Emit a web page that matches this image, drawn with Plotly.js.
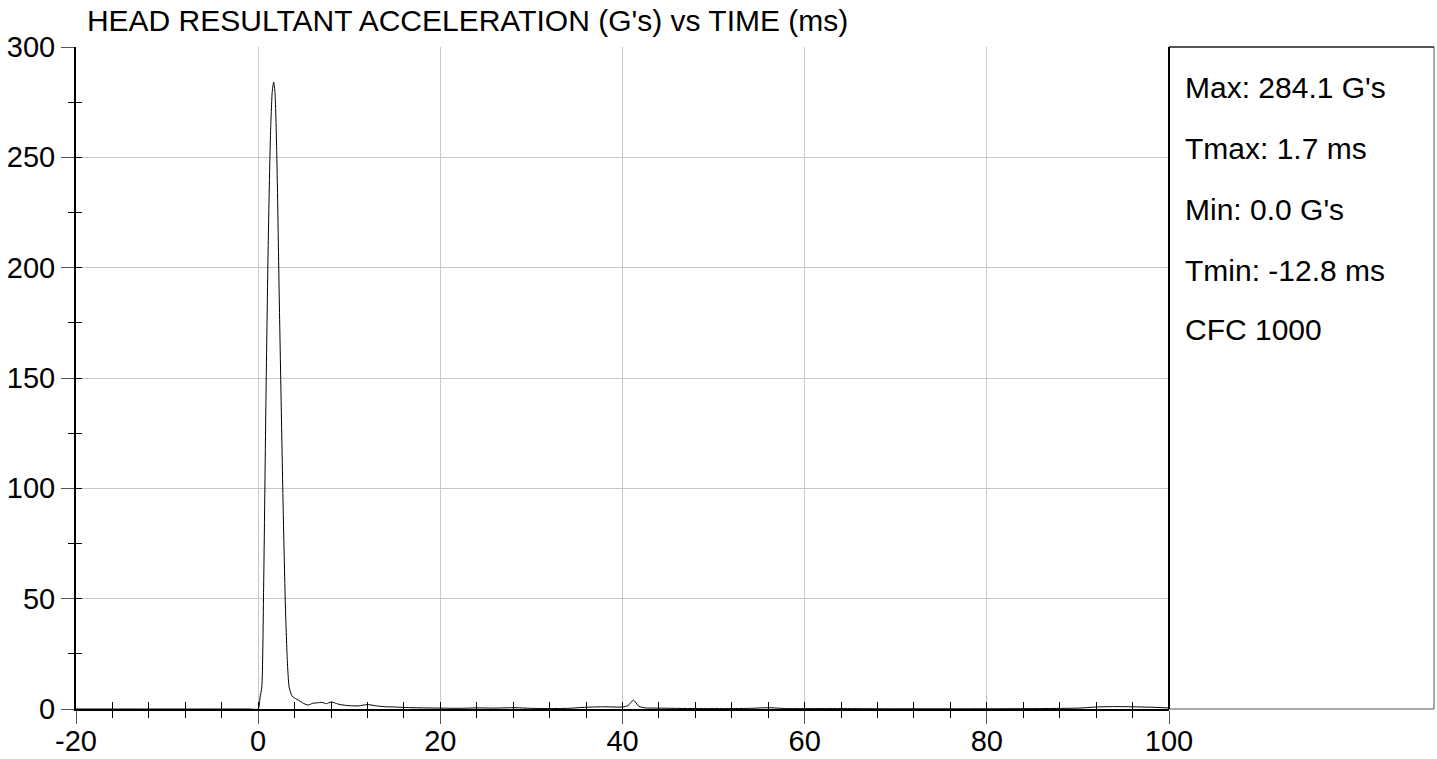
<!DOCTYPE html>
<html>
<head>
<meta charset="utf-8">
<script src="https://cdn.plot.ly/plotly-3.0.1.min.js"></script>
<style>html,body{margin:0;padding:0;background:#fff;}#chart{width:1437px;height:759px;}</style>
</head>
<body>
<div id="chart"></div>
<script>
const chartTitle = "HEAD RESULTANT ACCELERATION (G's) vs TIME (ms)";
const timeMs = [-20, -16, -12.8, -8, -4, -1, 0, 0.2, 0.4, 0.6, 0.86, 1.1, 1.35, 1.55, 1.7, 1.85, 2.05, 2.3, 2.51, 2.75, 3.0, 3.2, 3.4, 3.7, 4.0, 4.5, 5.0, 5.5, 6.0, 6.5, 7.0, 7.5, 8.0, 8.5, 9.0, 10, 11, 12, 13, 14, 15, 16, 17, 18, 20, 22, 24, 26, 28, 30, 32, 34, 36, 38, 40, 40.6, 41.2, 41.8, 42.5, 44, 48, 52, 54, 56, 58, 62, 70, 80, 86, 90, 92, 94, 96, 98, 100];
const headG = [0, 0, 0, 0, 0, 0, 0, 5, 10, 55, 142, 210, 260, 280, 284.1, 279, 250, 190, 142, 90, 45, 22, 10, 6, 5, 3.8, 2.5, 1.8, 2.6, 2.8, 3.0, 2.4, 3.2, 2.6, 2.0, 1.5, 1.4, 2.0, 1.4, 1.0, 0.9, 0.7, 0.6, 0.5, 0.4, 0.3, 0.5, 0.4, 0.6, 0.3, 0.2, 0.3, 0.8, 1.0, 0.9, 1.5, 4.0, 1.2, 0.5, 0.4, 0.2, 0.2, 0.3, 0.6, 0.2, 0.2, 0.1, 0.1, 0.2, 0.4, 0.9, 1.1, 1.0, 0.8, 0.5];
const statLines = ["Max: 284.1 G's", "Tmax: 1.7 ms", "Min: 0.0 G's", "Tmin: -12.8 ms", "CFC 1000"];
const statY = [0.939, 0.847, 0.754, 0.663, 0.573];
const xTicks = [-20, 0, 20, 40, 60, 80, 100];
const yTicks = [0, 50, 100, 150, 200, 250, 300];

const FONT = "Liberation Sans, Arial, sans-serif";
const FS = 29;
const plotW = 1093;
const panelRight = 1 + 265 / plotW;

const trace = {
  x: timeMs, y: headG, type: 'scatter', mode: 'lines',
  line: {color: '#000', width: 1, shape: 'spline', smoothing: 0.6},
  hoverinfo: 'x+y', showlegend: false
};
const dummy2 = {x: [-20], y: [0], xaxis: 'x2', yaxis: 'y2', type: 'scatter', mode: 'markers', marker: {opacity: 0}, showlegend: false, hoverinfo: 'skip'};

const annotations = statLines.map((t, i) => ({
  text: t, xref: 'paper', yref: 'paper', x: 1.0128, y: statY[i],
  xanchor: 'left', yanchor: 'middle', showarrow: false,
  font: {family: FONT, size: 30, color: '#000'}
}));

const layout = {
  width: 1437, height: 759,
  margin: {l: 76, r: 268, t: 47, b: 50},
  paper_bgcolor: '#fff', plot_bgcolor: '#fff',
  font: {family: FONT, size: FS, color: '#000'},
  title: {text: chartTitle, xref: 'paper', x: 0.01, xanchor: 'left', yref: 'container', y: 0.973, yanchor: 'middle',
          font: {family: FONT, size: 30, color: '#000'}},
  xaxis: {
    range: [-20, 100], tickvals: xTicks, ticktext: xTicks.map(String),
    showgrid: true, gridcolor: '#c8c8c8', gridwidth: 1,
    ticks: 'outside', ticklen: 13, tickcolor: '#555', tickwidth: 1,
    minor: {tickmode: 'linear', tick0: -20, dtick: 4, ticks: 'outside', ticklen: 7, tickcolor: '#000', tickwidth: 1, showgrid: false},
    showline: true, linecolor: '#000', linewidth: 2, zeroline: false,
    tickfont: {family: FONT, size: FS, color: '#000'}, ticklabelstandoff: -8
  },
  yaxis: {
    range: [0, 300], tickvals: yTicks, ticktext: yTicks.map(String),
    showgrid: true, gridcolor: '#c8c8c8', gridwidth: 1,
    ticks: 'outside', ticklen: 13, tickcolor: '#555', tickwidth: 1,
    minor: {tickmode: 'linear', tick0: 0, dtick: 25, ticks: 'outside', ticklen: 6, tickcolor: '#000', tickwidth: 1, showgrid: false},
    showline: true, linecolor: '#000', linewidth: 2, zeroline: false,
    tickfont: {family: FONT, size: FS, color: '#000'}, ticklabelstandoff: 0
  },
  xaxis2: {
    overlaying: 'x', anchor: 'y2', range: [-20, 100], tickmode: 'linear', tick0: -20, dtick: 4,
    ticks: 'inside', ticklen: 7, tickcolor: '#000', tickwidth: 1, side: 'bottom',
    showticklabels: false, showgrid: false, zeroline: false, showline: false
  },
  yaxis2: {
    overlaying: 'y', anchor: 'x2', range: [0, 300], tickmode: 'linear', tick0: 0, dtick: 25,
    ticks: 'inside', ticklen: 6, tickcolor: '#000', tickwidth: 1, side: 'left',
    showticklabels: false, showgrid: false, zeroline: false, showline: false
  },
  shapes: [
    {type: 'rect', xref: 'paper', yref: 'paper', x0: 1, x1: panelRight, y0: 0, y1: 1,
     line: {color: '#555', width: 1}, fillcolor: 'rgba(0,0,0,0)'},
    {type: 'line', xref: 'paper', yref: 'paper', x0: 1, x1: panelRight, y0: 1, y1: 1,
     line: {color: '#000', width: 1}},
    {type: 'line', xref: 'paper', yref: 'paper', x0: 1, x1: 1, y0: 0, y1: 1,
     line: {color: '#000', width: 2}}
  ],
  annotations: annotations,
  showlegend: false
};

Plotly.newPlot('chart', [trace, dummy2], layout, {displayModeBar: false, staticPlot: true});
</script>
</body>
</html>
